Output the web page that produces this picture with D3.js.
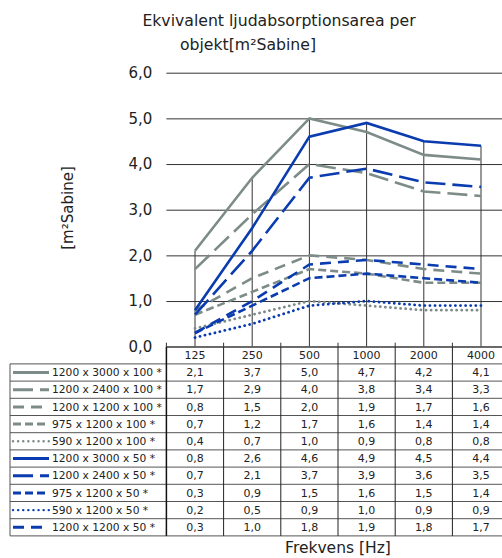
<!DOCTYPE html>
<html><head><meta charset="utf-8">
<script src="https://cdn.jsdelivr.net/npm/d3@7"></script>
<style>body{margin:0;background:#fff}svg{display:block;font-family:"DejaVu Sans",Verdana,sans-serif}</style>
</head><body><svg id="c" width="502" height="558"></svg>
<script>
const categories = ["125","250","500","1000","2000","4000"];
const seriesNames = ["1200 x 3000 x 100 *","1200 x 2400 x 100 *","1200 x 1200 x 100 *","975 x 1200 x 100 *","590 x 1200 x 100 *","1200 x 3000 x 50 *","1200 x 2400 x 50 *","975 x 1200 x 50 *","590 x 1200 x 50 *","1200 x 1200 x 50 *"];
const s1 = [2.1,3.7,5.0,4.7,4.2,4.1];
const s2 = [1.7,2.9,4.0,3.8,3.4,3.3];
const s3 = [0.8,1.5,2.0,1.9,1.7,1.6];
const s4 = [0.7,1.2,1.7,1.6,1.4,1.4];
const s5 = [0.4,0.7,1.0,0.9,0.8,0.8];
const s6 = [0.8,2.6,4.6,4.9,4.5,4.4];
const s7 = [0.7,2.1,3.7,3.9,3.6,3.5];
const s8 = [0.3,0.9,1.5,1.6,1.5,1.4];
const s9 = [0.2,0.5,0.9,1.0,0.9,0.9];
const s10 = [0.3,1.0,1.8,1.9,1.8,1.7];
const yTicks = [0,1,2,3,4,5,6];

const allValues = [s1,s2,s3,s4,s5,s6,s7,s8,s9,s10];
const GRAY = "#7d8c89", BLUE = "#0a3cb0";
const DOT = "0.1,5";
const styles = [
  {c:GRAY, d:null},{c:GRAY, d:"20,7"},{c:GRAY, d:"11,7"},{c:GRAY, d:"8,4"},{c:GRAY, d:DOT},
  {c:BLUE, d:null},{c:BLUE, d:"20,7"},{c:BLUE, d:"8,4"},{c:BLUE, d:DOT},{c:BLUE, d:"11,7"}
];
const fmt = v => d3.format(".1f")(v).replace(".", ",");

const svg = d3.select("#c");
const x = d3.scaleBand().domain(categories).range([166.4, 509.6]);
const y = d3.scaleLinear().domain([0,6]).range([346.7, 72.7]);
const cx = c => x(c) + x.bandwidth()/2;

svg.append("text").attr("x",279).attr("y",26).attr("text-anchor","middle").attr("font-size",15.7).attr("fill","#222").text("Ekvivalent ljudabsorptionsarea per");
svg.append("text").attr("x",248).attr("y",50).attr("text-anchor","middle").attr("font-size",15.7).attr("fill","#222").text("objekt[m²Sabine]");

const yAxis = d3.axisLeft(y).tickValues(yTicks).tickFormat(fmt).tickSize(-(520-166.4)).tickPadding(14);
const ga = svg.append("g").attr("transform","translate(166.4,0)").call(yAxis);
ga.select(".domain").remove();
ga.selectAll(".tick line").attr("stroke","#333").attr("stroke-width",1);
ga.selectAll(".tick text").attr("font-size",15).attr("fill","#222").attr("font-family","DejaVu Sans");

svg.append("text").attr("transform","translate(73,208) rotate(-90)").attr("text-anchor","middle").attr("font-size",15).attr("fill","#222").text("[m²Sabine]");

categories.forEach((c,i)=>{
  const mx = d3.max(allValues, s=>s[i]);
  svg.append("line").attr("x1",cx(c)).attr("x2",cx(c)).attr("y1",y(mx)).attr("y2",y(0)).attr("stroke","#333").attr("stroke-width",1);
});
categories.forEach(c=>{
  svg.append("line").attr("x1",x(c)).attr("x2",x(c)).attr("y1",y(0)-4).attr("y2",y(0)).attr("stroke","#333");
});

const isDot = d => d === DOT;
const line = d3.line().x((d,i)=>cx(categories[i])).y(d=>y(d));
allValues.forEach((s,k)=>{
  svg.append("path").datum(s).attr("d",line).attr("fill","none")
    .attr("stroke",styles[k].c).attr("stroke-width", isDot(styles[k].d) ? 2.8 : 2.6)
    .attr("stroke-dasharray",styles[k].d)
    .attr("stroke-linecap", isDot(styles[k].d) ? "round" : "butt");
});

const tTop = y(0), rowH = 17.2, tLeft = 10;
const tbl = svg.append("g");
categories.forEach(c=>{
  tbl.append("text").attr("x",cx(c)).attr("y",tTop+12.5).attr("text-anchor","middle").attr("font-size",11).attr("fill","#222").text(c);
});
seriesNames.forEach((n,k)=>{
  const ry = tTop + rowH*(k+1);
  tbl.append("line").attr("x1",13).attr("x2",49).attr("y1",ry+rowH/2).attr("y2",ry+rowH/2)
    .attr("stroke",styles[k].c).attr("stroke-width", isDot(styles[k].d) ? 2.4 : 3).attr("stroke-dasharray",styles[k].d)
    .attr("stroke-linecap", isDot(styles[k].d) ? "round" : "butt");
  tbl.append("text").attr("x",52).attr("y",ry+12.3).attr("font-size",10.7).attr("fill","#222").text(n);
  categories.forEach((c,i)=>{
    tbl.append("text").attr("x",cx(c)).attr("y",ry+12.3).attr("text-anchor","middle").attr("font-size",11).attr("fill","#222").text(fmt(allValues[k][i]));
  });
});
for(let r=0;r<=11;r++){
  const ry = tTop + rowH*r;
  tbl.append("line").attr("x1", r===0 ? 166.4 : tLeft).attr("x2",520).attr("y1",ry).attr("y2",ry).attr("stroke","#555").attr("stroke-width",1);
}
tbl.append("line").attr("x1",tLeft).attr("x2",tLeft).attr("y1",tTop+rowH).attr("y2",tTop+rowH*11).attr("stroke","#555");
tbl.append("line").attr("x1",166.4).attr("x2",166.4).attr("y1",tTop).attr("y2",tTop+rowH*11).attr("stroke","#111").attr("stroke-width",1.5);
categories.forEach((c,i)=>{ if(i>0) tbl.append("line").attr("x1",x(c)).attr("x2",x(c)).attr("y1",tTop).attr("y2",tTop+rowH*11).attr("stroke","#222"); });

svg.append("text").attr("x",338).attr("y",553).attr("text-anchor","middle").attr("font-size",15.5).attr("fill","#222").text("Frekvens [Hz]");
</script></body></html>
